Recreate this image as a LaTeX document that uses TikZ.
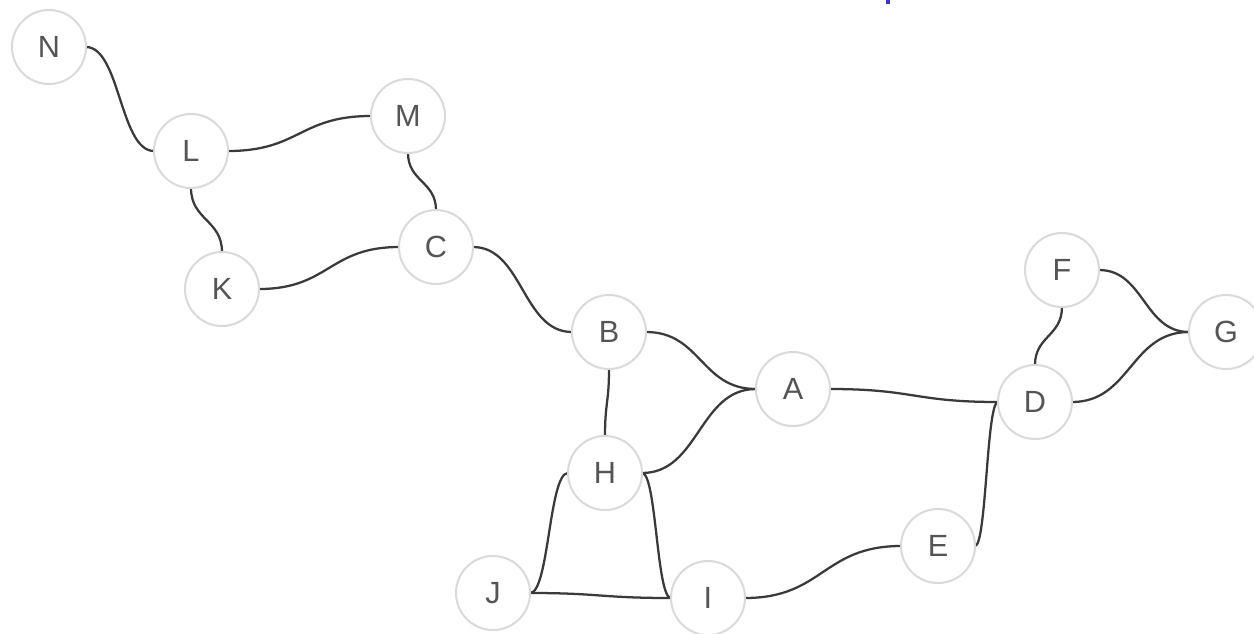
\documentclass[tikz,border=0pt]{standalone}
\usepackage{fontspec}
\setmainfont{Liberation Sans}
\usetikzlibrary{calc,backgrounds}
\definecolor{nodeline}{HTML}{DADADA}
\definecolor{edgecol}{HTML}{3A3A3A}
\definecolor{labelcol}{HTML}{555555}
\definecolor{markblue}{HTML}{3535D5}
\newcommand\hedge[2]{\draw[edge] let \p1=(#1), \p2=(#2), \p3=($(\p1)!.5!(\p2)$) in (\p1) .. controls (\x3,\y1) and (\x3,\y2) .. (\p2);}
\newcommand\vedge[2]{\draw[edge] let \p1=(#1), \p2=(#2), \p3=($(\p1)!.5!(\p2)$) in (\p1) .. controls (\x1,\y3) and (\x2,\y3) .. (\p2);}
\tikzset{
  vertex/.style={circle, draw=nodeline, line width=1.5pt, fill=white,
    minimum size=55.5pt, inner sep=0pt, outer sep=0pt,
    text=labelcol, font=\fontsize{23}{23}\selectfont},
  edge/.style={draw=edgecol, line width=1.7pt}
}
\begin{document}
\begin{tikzpicture}[x=0.75pt,y=-0.75pt]
\useasboundingbox (0,0) rectangle (1254,633);
\node[vertex] (N) at (49,47) {N};
\node[vertex] (L) at (191,151) {L};
\node[vertex] (M) at (408,116) {M};
\node[vertex] (C) at (436,247) {C};
\node[vertex] (K) at (222,289) {K};
\node[vertex] (B) at (609,332) {B};
\node[vertex] (A) at (793,389) {A};
\node[vertex] (D) at (1035,402) {D};
\node[vertex] (F) at (1062,270) {F};
\node[vertex] (G) at (1226,332) {G};
\node[vertex] (H) at (605,473) {H};
\node[vertex] (E) at (938,546) {E};
\node[vertex] (J) at (493,593) {J};
\node[vertex] (I) at (708,598) {I};
\fill[markblue] (886,0) rectangle (890,3.5);
\begin{scope}[on background layer]
\fill[white] (0,0) rectangle (1254,633);
\hedge{N.east}{L.west}
\hedge{L.east}{M.west}
\hedge{K.east}{C.west}
\hedge{C.east}{B.west}
\hedge{B.east}{A.west}
\hedge{H.east}{A.west}
\hedge{A.east}{D.west}
\hedge{D.east}{G.west}
\hedge{F.east}{G.west}
\hedge{H.west}{J.east}
\hedge{H.east}{I.west}
\hedge{D.west}{E.east}
\hedge{J.east}{I.west}
\hedge{I.east}{E.west}
\vedge{L.south}{K.north}
\vedge{M.south}{C.north}
\vedge{B.south}{H.north}
\vedge{D.north}{F.south}
\end{scope}
\end{tikzpicture}
\end{document}
